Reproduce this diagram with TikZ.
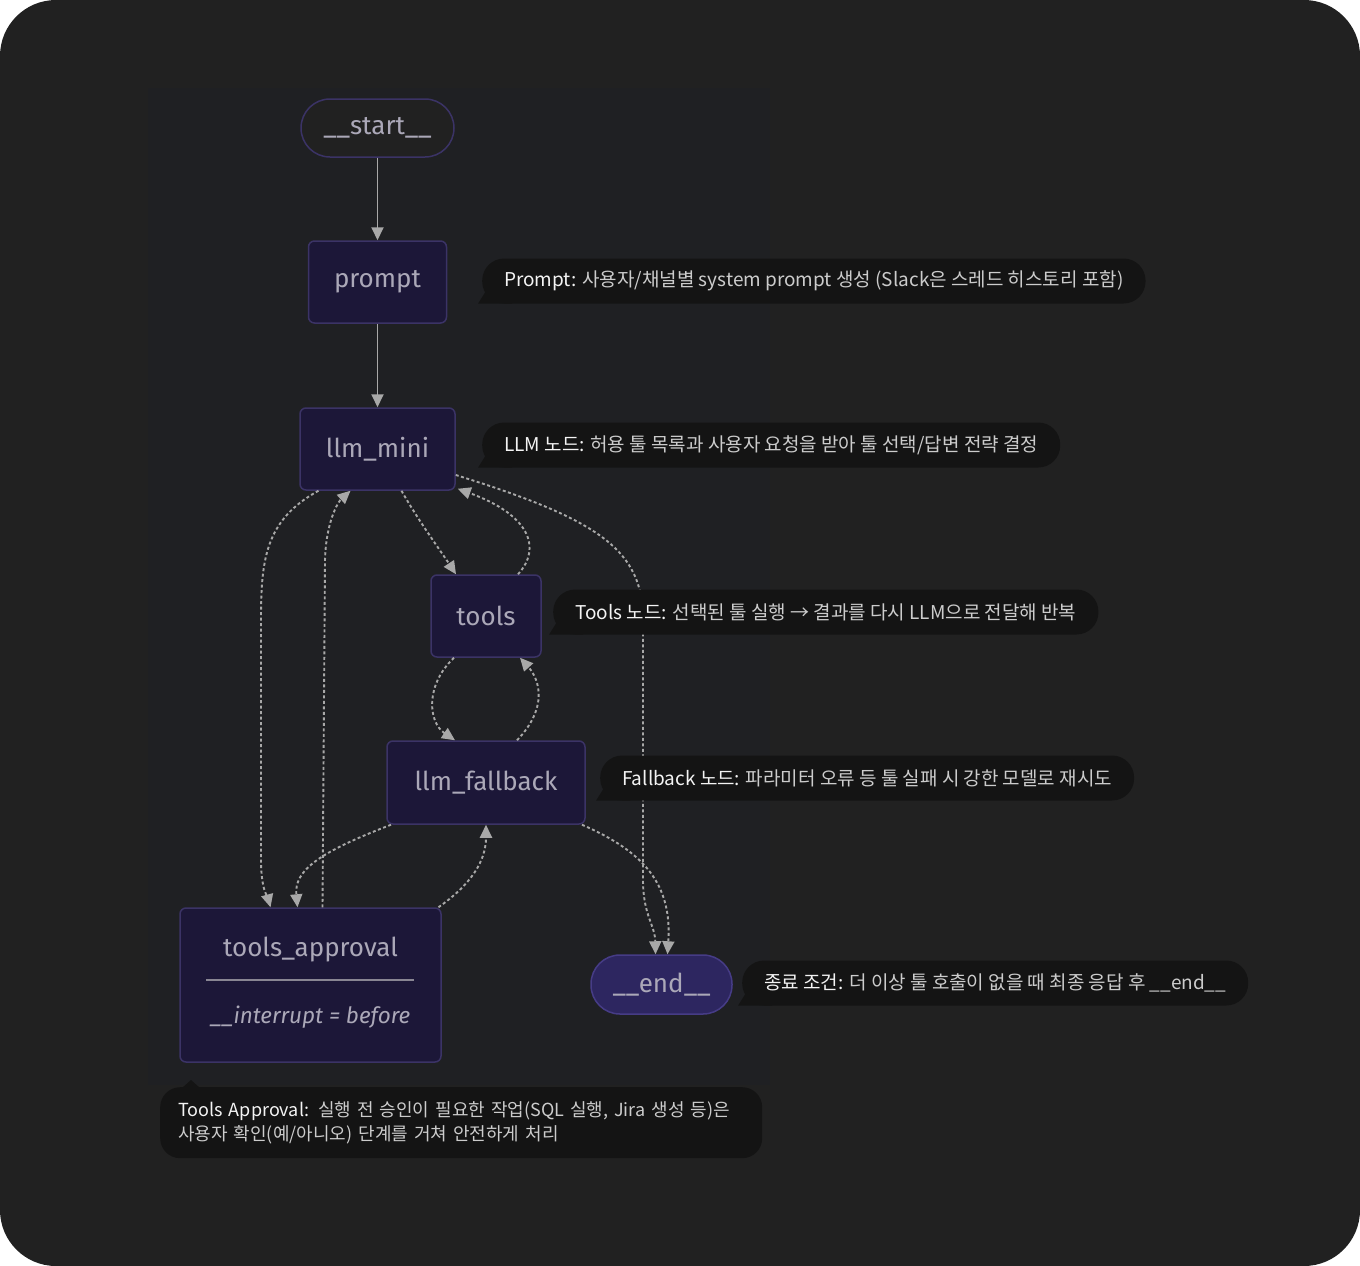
\documentclass[tikz,border=0pt]{standalone}
\usepackage{fontspec}
\setmainfont{Fira Sans}
\newfontfamily\capfont{Noto Sans CJK KR}
\newfontfamily\nodefont{Fira Sans}
\usetikzlibrary{arrows.meta,calc}
\pgfdeclarelayer{back}
\pgfdeclarelayer{tail}
\pgfsetlayers{back,tail,main}
\definecolor{bgc}{HTML}{212121}
\definecolor{panelc}{HTML}{1F2023}
\definecolor{nodefill}{HTML}{1C1738}
\definecolor{nodeline}{HTML}{3B3366}
\definecolor{endfill}{HTML}{2D2660}
\definecolor{endline}{HTML}{463C86}
\definecolor{nodetext}{HTML}{ABA8B8}
\definecolor{edgec}{HTML}{A8A8A8}
\definecolor{capfill}{HTML}{141414}
\definecolor{capw}{HTML}{F4F4F4}
\definecolor{capg}{HTML}{CCCCCC}
\newcommand\hd[1]{\textcolor{capw}{#1}}
\newcommand\captail[1]{\begin{pgfonlayer}{tail}\fill[capfill] ([xshift=-4pt]#1.south west) -- ([xshift=30pt]#1.south west) -- ([xshift=30pt,yshift=20pt]#1.south west) -- ([xshift=6pt,yshift=16pt]#1.south west) -- cycle;\end{pgfonlayer}}
\tikzset{
  gnode/.style={draw=nodeline, line width=1.5pt, fill=nodefill, rounded corners=6pt,
    text=nodetext, font=\nodefont\fontsize{26}{30}\selectfont, inner sep=0pt},
  stadium/.style={gnode, rounded corners=29pt},
  lbl/.style={text=nodetext, inner sep=0pt},
  edge/.style={draw=edgec, line width=1.9pt, -{Triangle[length=13pt,width=12pt]}, fill=none},
  dedge/.style={edge, dash pattern=on 3pt off 2.5pt},
  capbox/.style={fill=capfill, rounded corners=22pt, minimum height=45pt, inner xsep=22pt,
    inner ysep=0pt, text=capg, font=\capfont\fontsize{19}{24}\selectfont, anchor=west},
}
\begin{document}
\begin{tikzpicture}[x=1pt,y=-1pt]
\useasboundingbox (0,0) rectangle (1360,1266);
\begin{pgfonlayer}{back}
\fill[white] (0,0) rectangle (1360,1266);
\fill[bgc, rounded corners=56pt] (0,0) rectangle (1360,1266);
\fill[panelc] (148,88) rectangle (770,1085);
\end{pgfonlayer}

% graph nodes
\node[stadium, minimum width=153pt, minimum height=58pt, fill=bgc] (start) at (377.5,128) {\_\_start\_\_};
\node[gnode, minimum width=138pt, minimum height=82pt] (prompt) at (377.5,282) {prompt};
\node[gnode, minimum width=155pt, minimum height=82pt] (llm) at (377.5,449) {llm\_mini};
\node[gnode, minimum width=110pt, minimum height=82pt] (tools) at (486,616) {tools};
\node[gnode, minimum width=198pt, minimum height=83pt] (fb) at (486,782.5) {llm\_fallback};
\node[gnode, minimum width=261pt, minimum height=154pt] (ta) at (310.5,985) {};
\node[lbl, font=\nodefont\fontsize{26}{30}\selectfont] (tatitle) at (310.5,950) {tools\_approval};
\draw[nodetext!80!black, line width=1.5pt] (206,980) -- (414,980);
\node[lbl, font=\nodefont\itshape\fontsize{22.5}{26}\selectfont] (tasub) at (310.5,1017) {\_\_interrupt = before};
\node[stadium, minimum width=141pt, minimum height=59pt, fill=endfill, draw=endline] (end) at (661.5,984.5) {\_\_end\_\_};

% edges
\draw[edge] (start) -- (prompt);
\draw[edge] (prompt) -- (llm);
\draw[dedge] ([xshift=24pt]llm.south) .. controls (418,520) and (440,550) .. ([xshift=-30pt]tools.north);
\draw[dedge] ([xshift=32pt]tools.north) .. controls (542,548) and (530,515) .. ([xshift=2pt,yshift=2pt]llm.south east);
\draw[dedge] ([yshift=-26pt]llm.east) .. controls (600,520) and (643,550) .. (643,620) -- (643,880) .. controls (643,915) and (655,925) .. ([xshift=-6pt]end.north);
\draw[dedge] ([xshift=-59pt]llm.south) .. controls (265,520) and (261,560) .. (261,620) -- (261,860) .. controls (261,890) and (268,898) .. ([xshift=-40pt]ta.north);
\draw[dedge] ([xshift=12pt]ta.north) -- (325,560) .. controls (326,522) and (338,502) .. ([xshift=-27pt]llm.south);
\draw[dedge] ([xshift=-32pt]tools.south) .. controls (425,685) and (428,722) .. ([xshift=-31pt]fb.north);
\draw[dedge] ([xshift=31pt]fb.north) .. controls (548,708) and (540,680) .. ([xshift=34pt]tools.south);
\draw[dedge] ([xshift=-95pt]fb.south) .. controls (320,852) and (294,870) .. ([xshift=-13pt]ta.north);
\draw[dedge] ([xshift=128pt]ta.north) .. controls (470,885) and (486,862) .. (fb.south);
\draw[dedge] ([xshift=96pt]fb.south) .. controls (645,852) and (672,885) .. ([xshift=6pt]end.north);

% captions
\node[capbox] (c1) at (482,281) {\hd{Prompt:} 사용자/채널별 system prompt 생성 (Slack은 스레드 히스토리 포함)};
\captail{c1}
\node[capbox] (c2) at (482,445) {\hd{LLM 노드:} 허용 툴 목록과 사용자 요청을 받아 툴 선택/답변 전략 결정};
\captail{c2}
\node[capbox] (c3) at (553,612) {\hd{Tools 노드:} 선택된 툴 실행 → 결과를 다시 LLM으로 전달해 반복};
\captail{c3}
\node[capbox] (c4) at (600,778) {\hd{Fallback 노드:} 파라미터 오류 등 툴 실패 시 강한 모델로 재시도};
\captail{c4}
\node[capbox] (c5) at (742,983) {\hd{종료 조건:} 더 이상 툴 호출이 없을 때 최종 응답 후 \_\_end\_\_};
\captail{c5}
\node[capbox, anchor=north west, align=left, text width=566pt, minimum height=71pt, inner xsep=18pt, rounded corners=20pt, font=\capfont\fontsize{18}{24}\selectfont] (c6) at (160,1087)
  {\hd{Tools Approval:} 실행 전 승인이 필요한 작업(SQL 실행, Jira 생성 등)은\\사용자 확인(예/아니오) 단계를 거쳐 안전하게 처리};
\begin{pgfonlayer}{tail}
\fill[capfill] ([xshift=22pt,yshift=-1pt]c6.north west) -- ([xshift=31pt,yshift=7pt]c6.north west) -- ([xshift=40pt,yshift=-1pt]c6.north west) -- cycle;
\end{pgfonlayer}
\end{tikzpicture}
\end{document}
